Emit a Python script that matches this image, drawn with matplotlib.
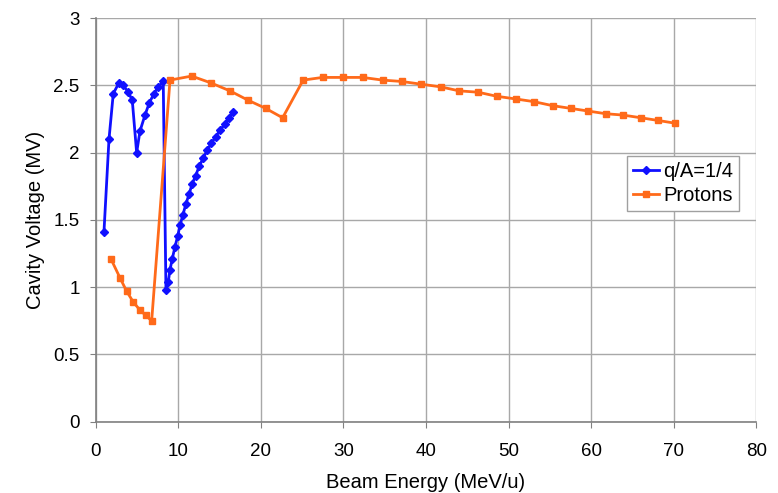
import matplotlib
matplotlib.use("Agg")
import matplotlib.pyplot as plt

plt.rcParams["font.family"] = ["Liberation Sans", "DejaVu Sans"]

# q/A = 1/4 curve
qa_energy = [1.00, 1.61, 2.13, 2.82, 3.34, 3.95, 4.43, 4.96, 5.36, 5.97, 6.49, 7.06, 7.58, 8.18,
             8.51, 8.79, 9.00, 9.27, 9.60, 9.93, 10.21, 10.57, 10.93, 11.30, 11.69, 12.11, 12.54,
             13.03, 13.51, 14.00, 14.56, 15.08, 15.62, 16.14, 16.66]
qa_voltage = [1.41, 2.10, 2.44, 2.52, 2.50, 2.45, 2.39, 2.00, 2.16, 2.28, 2.37, 2.44, 2.49, 2.53,
              0.98, 1.04, 1.13, 1.21, 1.30, 1.38, 1.46, 1.54, 1.62, 1.69, 1.77, 1.83, 1.90,
              1.96, 2.02, 2.07, 2.12, 2.17, 2.21, 2.26, 2.30]

# protons
p_energy = [1.85, 2.94, 3.75, 4.55, 5.36, 6.09, 6.78, 9.00, 11.62, 13.92, 16.26, 18.47, 20.58,
            22.64, 25.13, 27.48, 29.90, 32.32, 34.75, 37.05, 39.38, 41.77, 44.02, 46.32, 48.55,
            50.85, 53.06, 55.33, 57.51, 59.64, 61.78, 63.87, 66.02, 68.11, 70.13]
p_voltage = [1.21, 1.07, 0.97, 0.89, 0.83, 0.79, 0.75, 2.54, 2.57, 2.52, 2.46, 2.39, 2.33,
             2.26, 2.54, 2.56, 2.56, 2.56, 2.54, 2.53, 2.51, 2.49, 2.46, 2.45, 2.42,
             2.40, 2.38, 2.35, 2.33, 2.31, 2.29, 2.28, 2.26, 2.24, 2.22]

fig = plt.figure(figsize=(7.78, 4.93), dpi=100)
ax = fig.add_axes([0.123, 0.1446, 0.849, 0.8184])

ax.plot(qa_energy, qa_voltage, color="#1010ff", lw=2, marker="D", ms=4,
        label="q/A=1/4", zorder=3)
ax.plot(p_energy, p_voltage, color="#ff6a1a", lw=2, marker="s", ms=4.5,
        label="Protons", zorder=3)

ax.set_xlim(0, 80)
ax.set_ylim(0, 3)
ax.set_xticks(range(0, 81, 10))
ax.set_yticks([0, 0.5, 1, 1.5, 2, 2.5, 3])
ax.set_yticklabels(["0", "0.5", "1", "1.5", "2", "2.5", "3"])
ax.grid(True, color="#a8a8a8", lw=1)
ax.set_axisbelow(True)

for s in ["top", "right"]:
    ax.spines[s].set_visible(False)
for s in ["left", "bottom"]:
    ax.spines[s].set_color("#808080")
    ax.spines[s].set_linewidth(1.2)

ax.tick_params(axis="both", direction="out", length=4.5, color="#808080",
               labelsize=13.5, pad=7)
ax.tick_params(axis="x", pad=11)

ax.set_xlabel("Beam Energy (MeV/u)", fontsize=14.5, labelpad=9)
ax.set_ylabel("Cavity Voltage (MV)", fontsize=14.5, labelpad=6)

leg = ax.legend(loc="upper right", bbox_to_anchor=(0.950, 0.684),
                bbox_transform=fig.transFigure, borderaxespad=0, fontsize=14.5,
                fancybox=False, edgecolor="#a0a0a0", framealpha=1,
                handlelength=1.3, borderpad=0.3, labelspacing=0.25, handletextpad=0.2)
leg.get_frame().set_linewidth(1)

fig.savefig("out.png", dpi=100)
